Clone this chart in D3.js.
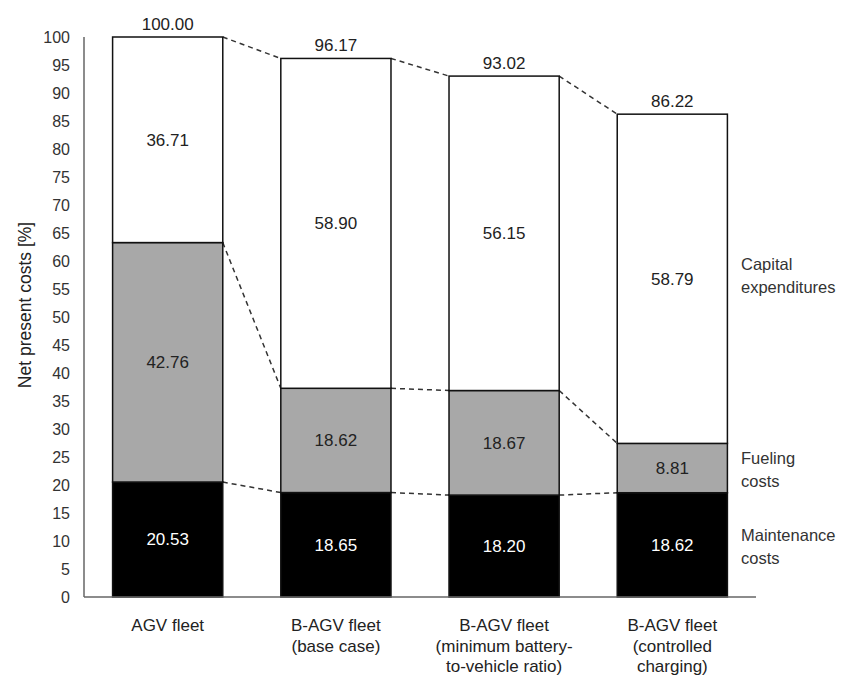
<!DOCTYPE html>
<html><head><meta charset="utf-8">
<script src="https://cdn.jsdelivr.net/npm/d3@7"></script>
<style>body{margin:0;background:#fff}svg{display:block}</style>
</head><body><svg id="c" width="850" height="678"></svg>
<script>
const categories = [
  ["AGV fleet"],
  ["B-AGV fleet", "(base case)"],
  ["B-AGV fleet", "(minimum battery-", "to-vehicle ratio)"],
  ["B-AGV fleet", "(controlled", "charging)"]
];
const maintenance = [20.53, 18.65, 18.20, 18.62];
const fueling = [42.76, 18.62, 18.67, 8.81];
const capital = [36.71, 58.90, 56.15, 58.79];
const totals = ["100.00", "96.17", "93.02", "86.22"];
const yTicks = d3.range(0, 101, 5);
const seriesNames = [["Maintenance","costs"],["Fueling","costs"],["Capital","expenditures"]];

const svg = d3.select("#c");
const font = "'Liberation Sans', Arial, sans-serif";
const x = d3.scaleBand().domain(d3.range(categories.length)).range([84, 756]).paddingInner(0.345).paddingOuter(0.17);
const y = d3.scaleLinear().domain([0, 100]).range([597, 37]);

const series = [
  {vals: maintenance, fill: "#000", text: "#fff"},
  {vals: fueling, fill: "#a8a8a8", text: "#222"},
  {vals: capital, fill: "#fff", text: "#222"}
];
const stacks = categories.map((c, i) => {
  let b = 0;
  return series.map(s => { const seg = {y0: b, y1: b + s.vals[i]}; b += s.vals[i]; return seg; });
});

// dashed connectors
const g = svg.append("g");
for (let i = 0; i < categories.length - 1; i++) {
  [0,1,2].forEach(k => {
    g.append("line")
      .attr("x1", x(i) + x.bandwidth()).attr("y1", y(stacks[i][k].y1))
      .attr("x2", x(i+1)).attr("y2", y(stacks[i+1][k].y1))
      .attr("stroke", "#333").attr("stroke-width", 1.5).attr("stroke-dasharray", "5,4");
  });
}

// bars
categories.forEach((c, i) => {
  series.forEach((s, k) => {
    const seg = stacks[i][k];
    svg.append("rect")
      .attr("x", x(i)).attr("y", y(seg.y1))
      .attr("width", x.bandwidth()).attr("height", y(seg.y0) - y(seg.y1))
      .attr("fill", s.fill).attr("stroke", "#111").attr("stroke-width", 1.5);
    svg.append("text")
      .attr("x", x(i) + x.bandwidth()/2).attr("y", y((seg.y0 + seg.y1)/2))
      .attr("dy", "0.35em").attr("text-anchor", "middle")
      .attr("font-family", font).attr("font-size", 17).attr("fill", s.text)
      .text(s.vals[i].toFixed(2));
  });
  svg.append("text")
    .attr("x", x(i) + x.bandwidth()/2).attr("y", y(stacks[i][2].y1) - 7)
    .attr("text-anchor", "middle").attr("font-family", font).attr("font-size", 17).attr("fill", "#222")
    .text(totals[i]);
  const t = svg.append("text").attr("text-anchor", "middle").attr("font-family", font).attr("font-size", 17).attr("fill", "#222");
  c.forEach((line, j) => {
    t.append("tspan").attr("x", x(i) + x.bandwidth()/2).attr("y", 631 + j*20.5).text(line);
  });
});

// axes lines
svg.append("line").attr("x1", 84).attr("x2", 84).attr("y1", y(100)).attr("y2", y(0)).attr("stroke", "#666").attr("stroke-width", 1.5);
svg.append("line").attr("x1", 84).attr("x2", 756).attr("y1", y(0)).attr("y2", y(0)).attr("stroke", "#666").attr("stroke-width", 1.5);

const yAxis = svg.append("g").attr("transform", "translate(70,0)")
  .call(d3.axisLeft(y).tickValues(yTicks).tickSize(0).tickPadding(0));
yAxis.select(".domain").remove();
yAxis.selectAll("text").attr("font-family", font).attr("font-size", 16).attr("fill", "#333");

svg.append("text").attr("transform", "translate(31,305) rotate(-90)")
  .attr("text-anchor", "middle").attr("font-family", font).attr("font-size", 17.5).attr("fill", "#222")
  .text("Net present costs [%]");

const legY = [541, 464, 270];
seriesNames.forEach((nm, k) => {
  const t = svg.append("text").attr("font-family", font).attr("font-size", 16.5).attr("fill", "#333");
  nm.forEach((line, j) => t.append("tspan").attr("x", 741).attr("y", legY[k] + j*22.5).text(line));
});
</script></body></html>
